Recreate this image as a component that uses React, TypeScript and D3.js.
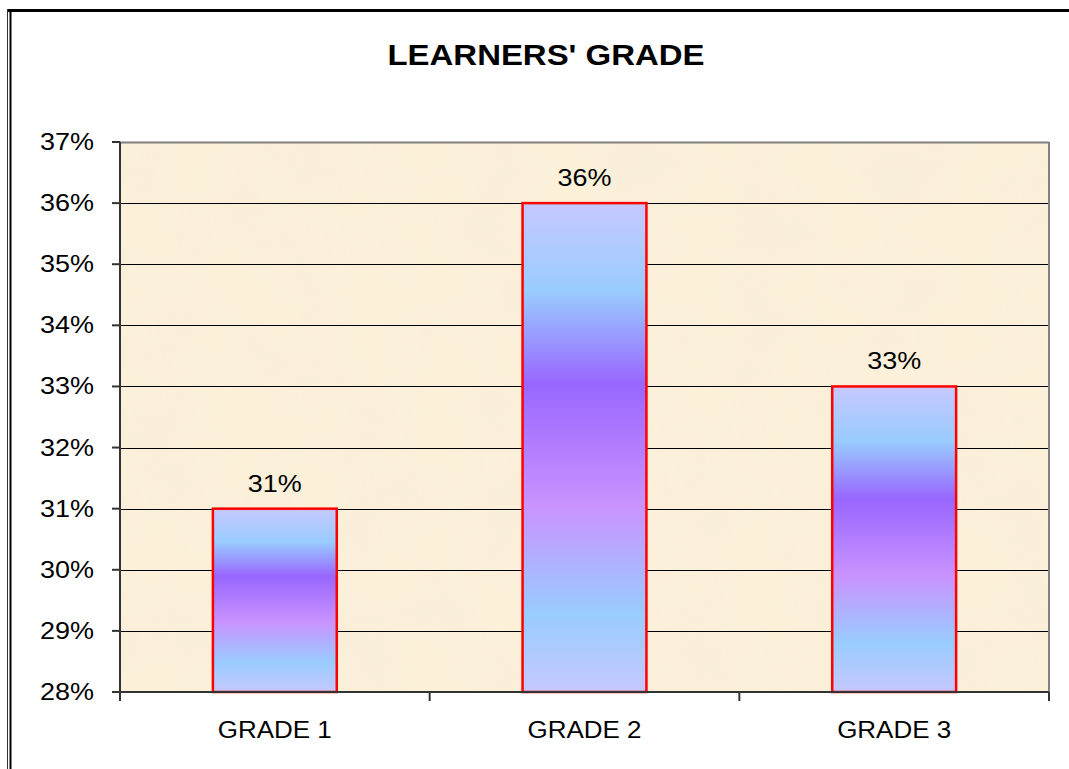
import React from "react";
import * as d3 from "d3";

const categories = ["GRADE 1", "GRADE 2", "GRADE 3"];
const values = [31, 36, 33];
const yTicks = [28, 29, 30, 31, 32, 33, 34, 35, 36, 37];
const title = "LEARNERS' GRADE";

const W = 1069;
const H = 769;
const plot = { left: 120, top: 142, right: 1049, bottom: 692 };
const FONT = "'Liberation Sans', Arial, sans-serif";

export default function App() {
  const x = d3
    .scaleBand<string>()
    .domain(categories)
    .range([plot.left, plot.right])
    .paddingInner(0.6)
    .paddingOuter(0.3);
  const y = d3.scaleLinear().domain([28, 37]).range([plot.bottom, plot.top]);
  const step = (plot.right - plot.left) / categories.length;
  const boundaries = d3.range(categories.length + 1).map((i) => plot.left + i * step);

  return (
    <svg width={W} height={H} style={{ position: "absolute", left: 0, top: 0, background: "#fff" }}>
      <defs>
        <linearGradient id="barGrad" x1="0" y1="0" x2="0" y2="1">
          <stop offset="0" stopColor="#C6C8FF" />
          <stop offset="0.18" stopColor="#99CCFF" />
          <stop offset="0.37" stopColor="#9966FF" />
          <stop offset="0.62" stopColor="#C993FF" />
          <stop offset="0.84" stopColor="#99CCFF" />
          <stop offset="1" stopColor="#C6C8FF" />
        </linearGradient>
        <filter id="paper" x="0" y="0" width="1" height="1">
          <feTurbulence type="fractalNoise" baseFrequency="0.015" numOctaves="3" seed="4" result="n" />
          <feColorMatrix
            in="n"
            type="matrix"
            values="0 0 0 0 0.92  0 0 0 0 0.84  0 0 0 0 0.70  0 0 0 0.5 -0.12"
            result="c"
          />
          <feComposite in="c" in2="SourceGraphic" operator="in" />
        </filter>
      </defs>

      {/* outer frame */}
      <line x1={7} y1={10.5} x2={W} y2={10.5} stroke="#000" strokeWidth={3} />
      <line x1={7.5} y1={9} x2={7.5} y2={H} stroke="#333" strokeWidth={1} />
      <line x1={10.5} y1={9} x2={10.5} y2={H} stroke="#000" strokeWidth={2} />

      {/* title */}
      <text
        x={546}
        y={65}
        textAnchor="middle"
        fontFamily={FONT}
        fontWeight="bold"
        fontSize={29}
        textLength={317}
        lengthAdjust="spacingAndGlyphs"
        fill="#000"
      >
        {title}
      </text>

      {/* plot background */}
      <rect
        x={plot.left}
        y={plot.top}
        width={plot.right - plot.left}
        height={plot.bottom - plot.top}
        fill="#FCF0D9"
      />
      <rect
        x={plot.left}
        y={plot.top}
        width={plot.right - plot.left}
        height={plot.bottom - plot.top}
        fill="#fff"
        filter="url(#paper)"
      />

      {/* gridlines */}
      {yTicks.slice(1, -1).map((t) => (
        <line
          key={t}
          x1={plot.left}
          x2={plot.right}
          y1={Math.round(y(t)) + 0.5}
          y2={Math.round(y(t)) + 0.5}
          stroke="#000"
          strokeWidth={1}
        />
      ))}
      {/* plot border top & right */}
      <line x1={plot.left} x2={plot.right} y1={plot.top + 0.5} y2={plot.top + 0.5} stroke="#808080" strokeWidth={2} />
      <line x1={plot.right} x2={plot.right} y1={plot.top} y2={plot.bottom} stroke="#808080" strokeWidth={2} />

      {/* bars */}
      {categories.map((c, i) => (
        <g key={c}>
          <rect
            x={x(c)!}
            y={y(values[i])}
            width={x.bandwidth()}
            height={plot.bottom - y(values[i])}
            fill="url(#barGrad)"
            stroke="#FF0000"
            strokeWidth={2.5}
          />
          <text
            x={x(c)! + x.bandwidth() / 2}
            y={y(values[i]) - 17}
            textAnchor="middle"
            fontFamily={FONT}
            fontSize={23}
            textLength={54}
            lengthAdjust="spacingAndGlyphs"
            fill="#000"
          >
            {values[i] + "%"}
          </text>
          <text
            x={plot.left + step * (i + 0.5)}
            y={738}
            textAnchor="middle"
            fontFamily={FONT}
            fontSize={23}
            textLength={114}
            lengthAdjust="spacingAndGlyphs"
            fill="#000"
          >
            {c}
          </text>
        </g>
      ))}

      {/* y axis */}
      <line x1={plot.left} x2={plot.left} y1={plot.top} y2={plot.bottom} stroke="#333" strokeWidth={2} />
      {yTicks.map((t) => (
        <g key={t}>
          <line x1={112} x2={plot.left} y1={y(t)} y2={y(t)} stroke="#333" strokeWidth={2} />
          <text
            x={94}
            y={y(t) + 8}
            textAnchor="end"
            fontFamily={FONT}
            fontSize={23}
            textLength={54}
            lengthAdjust="spacingAndGlyphs"
            fill="#000"
          >
            {t + "%"}
          </text>
        </g>
      ))}

      {/* x axis */}
      <line x1={plot.left - 8} x2={plot.right} y1={plot.bottom} y2={plot.bottom} stroke="#333" strokeWidth={2} />
      {boundaries.map((b, i) => (
        <line key={i} x1={b} x2={b} y1={plot.bottom} y2={plot.bottom + 9} stroke="#333" strokeWidth={2} />
      ))}
    </svg>
  );
}
